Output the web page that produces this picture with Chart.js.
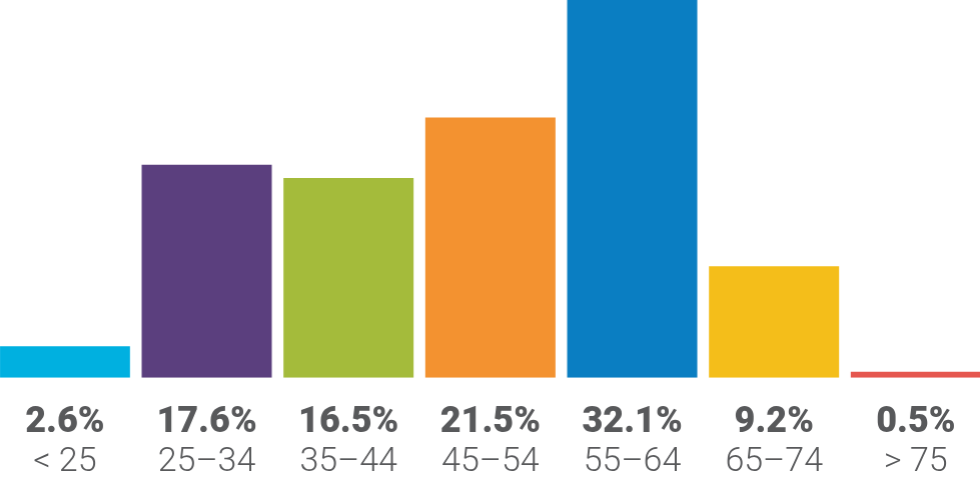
<!DOCTYPE html>
<html>
<head>
<meta charset="utf-8">
<script src="https://cdn.jsdelivr.net/npm/chart.js@4"></script>
<style>
  html, body { margin: 0; padding: 0; background: #fff; overflow: hidden; }
  #wrap { position: absolute; left: -5.85px; top: 0; width: 991.7px; height: 492px; }
</style>
</head>
<body>
<div id="wrap"><canvas id="ageChart"></canvas></div>
<script>
// age groups and share of respondents (%)
const ageGroups = ['< 25', '25–34', '35–44', '45–54', '55–64', '65–74', '> 75'];
const shares = [2.6, 17.6, 16.5, 21.5, 32.1, 9.2, 0.5];
const barColors = ['#00b0e0', '#5b3f7e', '#a4bb3b', '#f39230', '#0a7ec2', '#f4be1a', '#e5574f'];

const textColor = '#58595b';

const ctx = document.getElementById('ageChart').getContext('2d');
const chart = new Chart(ctx, {
    type: 'bar',
    data: {
        labels: ageGroups,
        datasets: [{
            data: shares,
            backgroundColor: barColors,
            borderWidth: 0,
            barPercentage: 0.9176,
            categoryPercentage: 1
        }]
    },
    options: {
        responsive: true,
        maintainAspectRatio: false,
        animation: false,
        layout: { padding: 0 },
        plugins: {
            legend: { display: false },
            tooltip: { enabled: false }
        },
        scales: {
            y: {
                display: false,
                min: 0,
                max: 31.2
            },
            x: {
                position: 'bottom',
                grid: { display: false, drawTicks: false },
                border: { display: false },
                ticks: {
                    color: textColor,
                    font: { family: 'Roboto', size: 36, weight: 900 },
                    padding: 24,
                    maxRotation: 0,
                    autoSkip: false,
                    callback: (value, index) => shares[index].toFixed(1) + '%'
                },
                afterFit: (scale) => { scale.height = 64; }
            },
            x2: {
                position: 'bottom',
                type: 'category',
                labels: ageGroups,
                grid: { display: false, drawTicks: false },
                border: { display: false },
                ticks: {
                    color: textColor,
                    font: { family: 'Roboto', size: 34, weight: 300 },
                    padding: 0,
                    maxRotation: 0,
                    autoSkip: false
                },
                afterFit: (scale) => { scale.height = 50.3; }
            }
        }
    }
});
</script>
</body>
</html>
